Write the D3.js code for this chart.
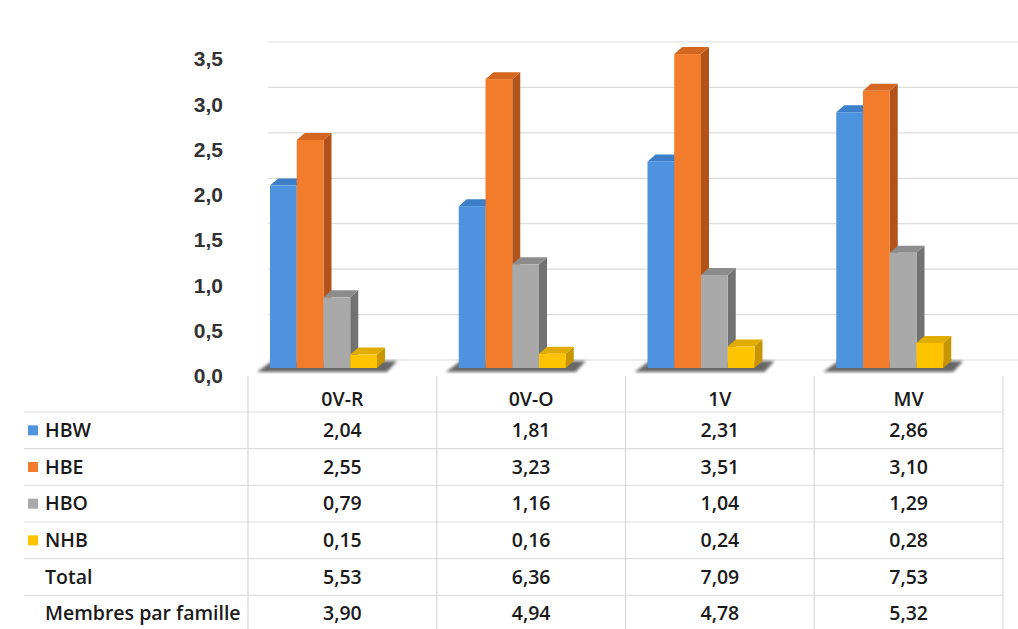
<!DOCTYPE html>
<html><head><meta charset="utf-8">
<script src="https://cdn.jsdelivr.net/npm/d3@7"></script>
<style>html,body{margin:0;padding:0;background:#fff;}svg{display:block;}</style>
</head><body>
<svg id="chart" width="1018" height="629"></svg>
<script>
const categories = ["0V-R", "0V-O", "1V", "MV"];
const seriesNames = ["HBW", "HBE", "HBO", "NHB"];
const HBW = [2.04, 1.81, 2.31, 2.86];
const HBE = [2.55, 3.23, 3.51, 3.10];
const HBO = [0.79, 1.16, 1.04, 1.29];
const NHB = [0.15, 0.16, 0.24, 0.28];
const totals = [5.53, 6.36, 7.09, 7.53];
const membres = [3.90, 4.94, 4.78, 5.32];
const yTicks = [0, 0.5, 1, 1.5, 2, 2.5, 3, 3.5];
const seriesValues = [HBW, HBE, HBO, NHB];
const colors = {
  HBW: {front: "#4d93de", side: "#2d6cb3", top: "#3c7fc8"},
  HBE: {front: "#f27c2c", side: "#b2541a", top: "#d4661f"},
  HBO: {front: "#a9a9a9", side: "#727272", top: "#8c8c8c"},
  NHB: {front: "#ffc400", side: "#c79500", top: "#e0ac00"}
};

const locale = d3.formatLocale({decimal: ",", thousands: " ", grouping: [3], currency: ["", "€"]});
const f1 = locale.format(".1f");
const f2 = locale.format(".2f");

const svg = d3.select("#chart");
const defs = svg.append("defs");
defs.append("filter").attr("id", "blur").append("feGaussianBlur").attr("stdDeviation", 1.6);

// scales
const xCol = d3.scaleBand().domain(categories).range([248, 1003]).paddingInner(0).paddingOuter(0);
const yFront = d3.scaleLinear().domain([0, 3.5]).range([368, 55]);
const yBack = d3.scaleLinear().domain([0, 3.5]).range([360, 42]);
const yAxisScale = d3.scaleLinear().domain([0, 3.5]).range([376, 59]);
const xSeries = d3.scaleBand().domain(seriesNames).range([0, 107]).padding(0);
const groupOffset = 22;
const dx = 8, dy = 7;

// back wall gridlines
svg.append("g").selectAll("line").data(yTicks).join("line")
  .attr("x1", 268).attr("x2", 1018)
  .attr("y1", d => yBack(d)).attr("y2", d => yBack(d))
  .attr("stroke", "#dcdcdc").attr("stroke-width", 1.2);

// y axis labels
const yAxis = d3.axisLeft(yAxisScale).tickValues(yTicks).tickFormat(f1).tickSize(0).tickPadding(0);
const gy = svg.append("g").attr("transform", "translate(223,0)").call(yAxis);
gy.select(".domain").remove();
gy.selectAll("text").attr("font-family", "Liberation Sans, Arial, sans-serif")
  .attr("font-size", 21).attr("font-weight", "bold").attr("fill", "#333333");

// bars
const barsG = svg.append("g");
categories.forEach((c, i) => {
  const gx = xCol(c) + groupOffset;
  const gw = xSeries.range()[1];
  // floor shadow
  barsG.append("polygon")
    .attr("points", [[gx - 13, 372], [gx + gw + 10, 372], [gx + gw + 20, 361], [gx + 2, 361]].map(p => p.join(",")).join(" "))
    .attr("fill", "#4d4d4d").attr("opacity", 0.85).attr("filter", "url(#blur)");
  seriesNames.forEach((s, j) => {
    const v = seriesValues[j][i];
    const x0 = gx + xSeries(s);
    const x1 = x0 + xSeries.bandwidth();
    const yt = yFront(v), yb = yFront(0);
    const col = colors[s];
    const g = barsG.append("g");
    g.append("polygon")
      .attr("points", [[x1, yt], [x1 + dx, yt - dy], [x1 + dx, yb - dy], [x1, yb]].map(p => p.join(",")).join(" "))
      .attr("fill", col.side);
    g.append("polygon")
      .attr("points", [[x0, yt], [x0 + dx, yt - dy], [x1 + dx, yt - dy], [x1, yt]].map(p => p.join(",")).join(" "))
      .attr("fill", col.top);
    g.append("rect").attr("x", x0).attr("y", yt).attr("width", x1 - x0).attr("height", yb - yt)
      .attr("fill", col.front);
  });
});

// data table
const rowLabels = ["HBW", "HBE", "HBO", "NHB", "Total", "Membres par famille"];
const rowValues = [HBW, HBE, HBO, NHB, totals, membres];
const rows = d3.scaleBand().domain(d3.range(6)).range([412, 632]);
const headerY = 399;
const tbl = svg.append("g");
// horizontal lines
tbl.selectAll("line.h").data(d3.range(6)).join("line").attr("class", "h")
  .attr("x1", 24).attr("x2", 1003)
  .attr("y1", d => rows(d)).attr("y2", d => rows(d))
  .attr("stroke", "#dedede").attr("stroke-width", 1.2);
// vertical lines
const vlines = categories.map(c => xCol(c)).concat([xCol.range()[1]]);
tbl.selectAll("line.v").data(vlines).join("line").attr("class", "v")
  .attr("x1", d => d).attr("x2", d => d).attr("y1", 376).attr("y2", 629)
  .attr("stroke", "#d8d8d8").attr("stroke-width", 1.2);

const tfont = "'Open Sans', sans-serif";
const tsize = 19.5;
// header
tbl.selectAll("text.hdr").data(categories).join("text").attr("class", "hdr")
  .attr("x", d => xCol(d) + xCol.bandwidth() / 2).attr("y", headerY)
  .attr("dy", "0.35em").attr("text-anchor", "middle")
  .attr("font-family", tfont).attr("font-size", tsize).attr("font-weight", 600).attr("fill", "#1a1a1a")
  .text(d => d);
rowLabels.forEach((lab, r) => {
  const yc = rows(r) + rows.bandwidth() / 2;
  if (r < 4) {
    tbl.append("rect").attr("x", 28).attr("y", yc - 5).attr("width", 10).attr("height", 10)
      .attr("fill", colors[lab].front);
  }
  tbl.append("text").attr("x", 45).attr("y", yc).attr("dy", "0.35em")
    .attr("font-family", tfont).attr("font-size", tsize).attr("font-weight", 600).attr("fill", "#1a1a1a")
    .text(lab);
  tbl.selectAll(null).data(rowValues[r]).join("text")
    .attr("x", (d, i) => xCol(categories[i]) + xCol.bandwidth() / 2).attr("y", yc).attr("dy", "0.35em")
    .attr("text-anchor", "middle")
    .attr("font-family", tfont).attr("font-size", tsize).attr("font-weight", 600).attr("fill", "#1a1a1a")
    .text(d => f2(d));
});
</script>
</body></html>
